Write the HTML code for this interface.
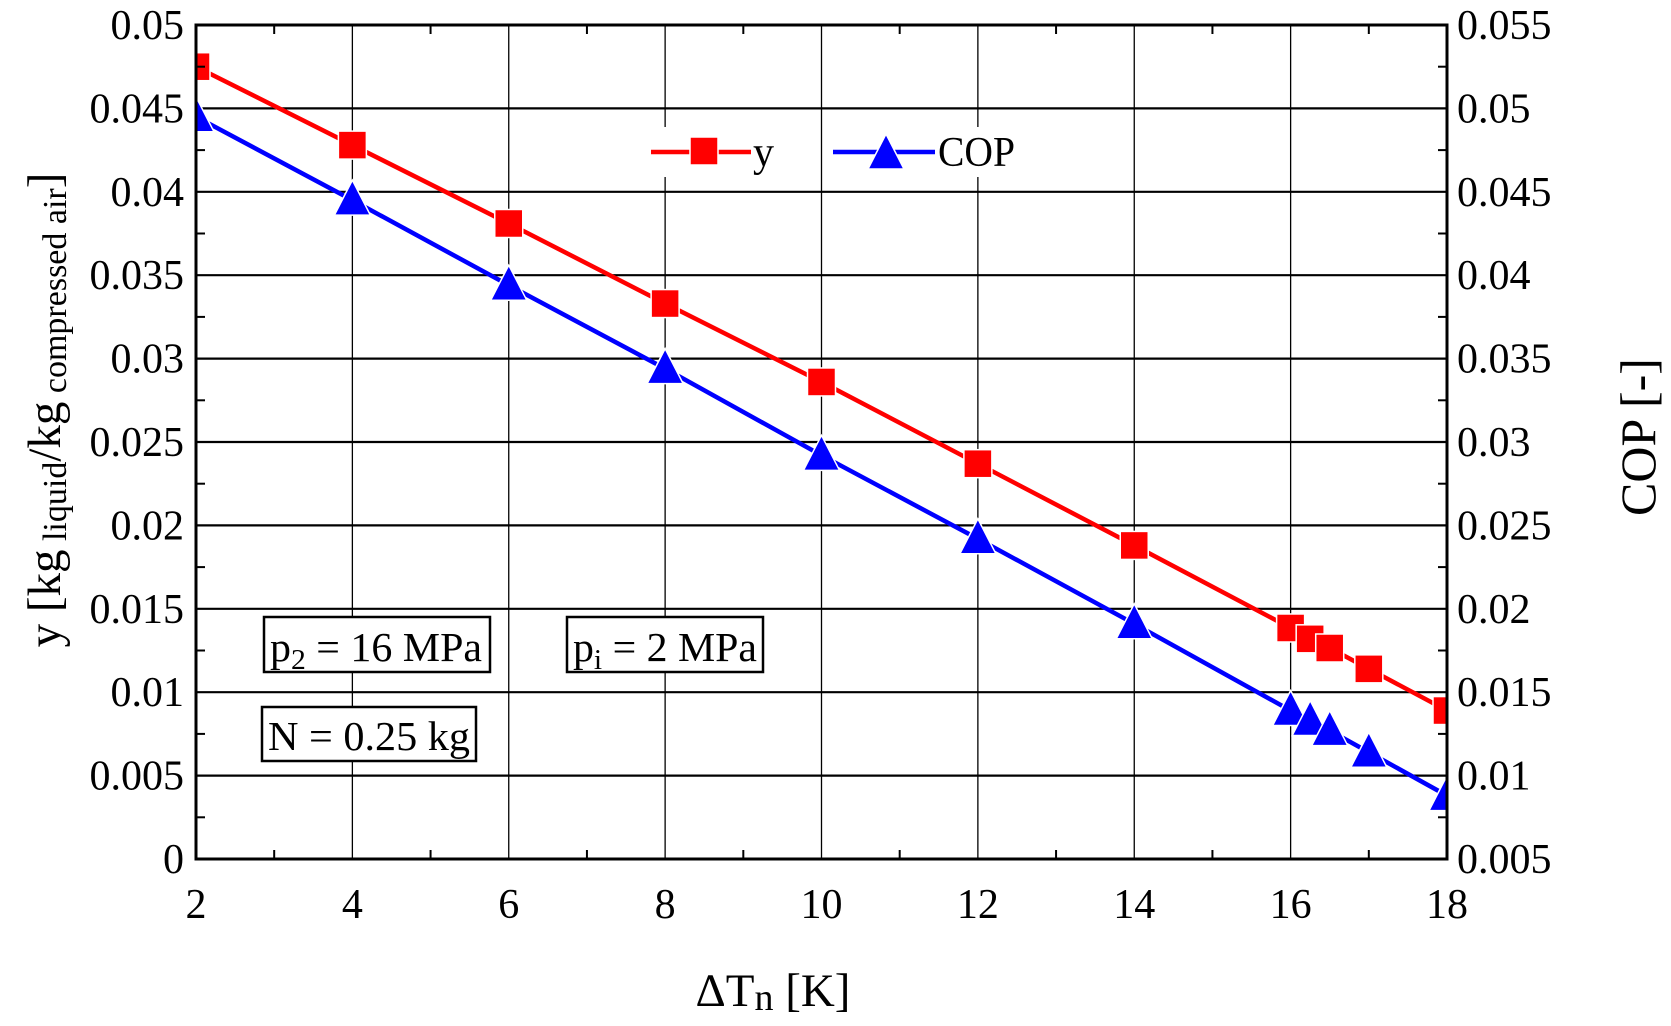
<!DOCTYPE html>
<html><head><meta charset="utf-8"><style>
html,body{margin:0;padding:0;background:#fff;}
svg{display:block;font-family:"Liberation Serif",serif;}
</style></head><body>
<svg id="chart" width="1671" height="1026" viewBox="0 0 1671 1026" xmlns="http://www.w3.org/2000/svg">
<defs><clipPath id="plotclip"><rect x="196" y="25" width="1251" height="834"/></clipPath></defs>
<g id="grid"></g>
<g id="series" clip-path="url(#plotclip)"></g>
<g id="legend"></g>
<g id="axes"></g>
<g>
<rect x="264" y="617" width="226" height="55" fill="#fff" stroke="#000" stroke-width="2.5"/>
<text x="270" y="661" font-size="41" textLength="212" lengthAdjust="spacingAndGlyphs">p<tspan font-size="29" dy="8">2</tspan><tspan dy="-8"> = 16 MPa</tspan></text>
</g>
<g>
<rect x="567" y="617" width="196" height="55" fill="#fff" stroke="#000" stroke-width="2.5"/>
<text x="573" y="661" font-size="41" textLength="184" lengthAdjust="spacingAndGlyphs">p<tspan font-size="29" dy="8">i</tspan><tspan dy="-8"> = 2 MPa</tspan></text>
</g>
<g>
<rect x="262" y="707" width="214" height="54" fill="#fff" stroke="#000" stroke-width="2.5"/>
<text x="268" y="750" font-size="41" textLength="202" lengthAdjust="spacingAndGlyphs">N = 0.25 kg</text>
</g>
<text transform="translate(60,410) rotate(-90)" text-anchor="middle" font-size="47">y [kg<tspan font-size="34" dy="6"> liquid</tspan><tspan dy="-6">/kg</tspan><tspan font-size="34" dy="6"> compressed air</tspan><tspan dy="-6">]</tspan></text>
<text transform="translate(1655,437) rotate(-90)" text-anchor="middle" font-size="50">COP [-]</text>
<text x="773" y="1006" text-anchor="middle" font-size="47">ΔT<tspan font-size="38" dy="4">n</tspan><tspan dy="-4"> [K]</tspan></text>
</svg>
<script>
const xs = [2, 4, 6, 8, 10, 12, 14, 16, 16.25, 16.5, 17, 18];
const yVals = [0.0475, 0.0428, 0.0381, 0.0333, 0.0286, 0.0237, 0.0188, 0.01385, 0.0132, 0.01265, 0.0114, 0.0089];
const copVals = [0.0495, 0.0445, 0.0394, 0.0344, 0.0292, 0.0242, 0.0191, 0.0139, 0.0133, 0.0127, 0.0114, 0.0088];
const xTicks = [2, 4, 6, 8, 10, 12, 14, 16, 18];
const yTicks = [0, 0.005, 0.01, 0.015, 0.02, 0.025, 0.03, 0.035, 0.04, 0.045, 0.05];
const yTickLabels = ["0","0.005","0.01","0.015","0.02","0.025","0.03","0.035","0.04","0.045","0.05"];
const y2TickLabels = ["0.005","0.01","0.015","0.02","0.025","0.03","0.035","0.04","0.045","0.05","0.055"];

const L=196,R=1447,T=25,B=859;
const sx = v => L + (v-2)/16*(R-L);
const sy = v => B - v/0.05*(B-T);
const sy2 = v => sy(v-0.005);
const NS="http://www.w3.org/2000/svg";
function mk(tag, attrs, parent){const e=document.createElementNS(NS,tag);for(const k in attrs)e.setAttribute(k,attrs[k]);parent.appendChild(e);return e;}
const grid=document.getElementById('grid'),axes=document.getElementById('axes'),series=document.getElementById('series'),legend=document.getElementById('legend');

xTicks.forEach(t=>{
  const l=mk('line',{x1:sx(t),x2:sx(t),y1:T,y2:B,stroke:'#000','stroke-width':1.3},grid);
  
  
  const tx=mk('text',{x:sx(t),y:918,'text-anchor':'middle','font-size':42},axes);
  tx.textContent=t;
  
  
});
for(let t=3;t<18;t+=2){
  mk('line',{x1:sx(t),x2:sx(t),y1:B,y2:B-9,stroke:'#000','stroke-width':2},axes);
  mk('line',{x1:sx(t),x2:sx(t),y1:T,y2:T+9,stroke:'#000','stroke-width':2},axes);
}
yTicks.forEach((t,i)=>{
  const l=mk('line',{x1:L,x2:R,y1:sy(t),y2:sy(t),stroke:'#000','stroke-width':2.2},grid);
  
  
  const tx=mk('text',{x:184,y:sy(t)+14,'text-anchor':'end','font-size':42},axes);
  tx.textContent=yTickLabels[i];
  
  
  const tx2=mk('text',{x:1457,y:sy(t)+14,'text-anchor':'start','font-size':42},axes);
  tx2.textContent=y2TickLabels[i];
  
  
  if(i<yTicks.length-1){
    const m=sy(t+0.0025);
    mk('line',{x1:L,x2:L+9,y1:m,y2:m,stroke:'#000','stroke-width':2},axes);
    mk('line',{x1:R,x2:R-9,y1:m,y2:m,stroke:'#000','stroke-width':2},axes);
  }
});
const frame=mk('rect',{x:L,y:T,width:R-L,height:B-T,fill:'none',stroke:'#000','stroke-width':3},axes);



function tri(cx,cy,parent){return mk('polygon',{points:`${cx},${cy-20} ${cx-18},${cy+15} ${cx+18},${cy+15}`,fill:'#0000ff',stroke:'#fff','stroke-width':1.5},parent);}
function sq(cx,cy,parent){return mk('rect',{x:cx-14,y:cy-14,width:28,height:28,fill:'#ff0000',stroke:'#fff','stroke-width':1.5},parent);}

const yLine=mk('polyline',{points:xs.map((x,i)=>sx(x)+','+sy(yVals[i])).join(' '),fill:'none',stroke:'#ff0000','stroke-width':4.5},series);


const cLine=mk('polyline',{points:xs.map((x,i)=>sx(x)+','+sy2(copVals[i])).join(' '),fill:'none',stroke:'#0000ff','stroke-width':4.5},series);


xs.forEach((x,i)=>{
  const s=sq(sx(x),sy(yVals[i]),series);
  
  
});
xs.forEach((x,i)=>{
  const t=tri(sx(x),sy2(copVals[i]),series);
  
  
});

mk('rect',{x:640,y:127,width:178,height:50,fill:'#fff'},legend);
mk('rect',{x:826,y:127,width:200,height:50,fill:'#fff'},legend);
mk('line',{x1:651,x2:751,y1:152,y2:152,stroke:'#ff0000','stroke-width':4.5},legend);
const ls=sq(704,151,legend);


const lt=mk('text',{x:753,y:166,'font-size':42},legend);lt.textContent='y';


mk('line',{x1:833,x2:935,y1:152,y2:152,stroke:'#0000ff','stroke-width':4.5},legend);
const lc=tri(886,154,legend);


const lt2=mk('text',{x:938,y:166,'font-size':42,textLength:77,lengthAdjust:'spacingAndGlyphs'},legend);lt2.textContent='COP';


</script>
</body></html>
